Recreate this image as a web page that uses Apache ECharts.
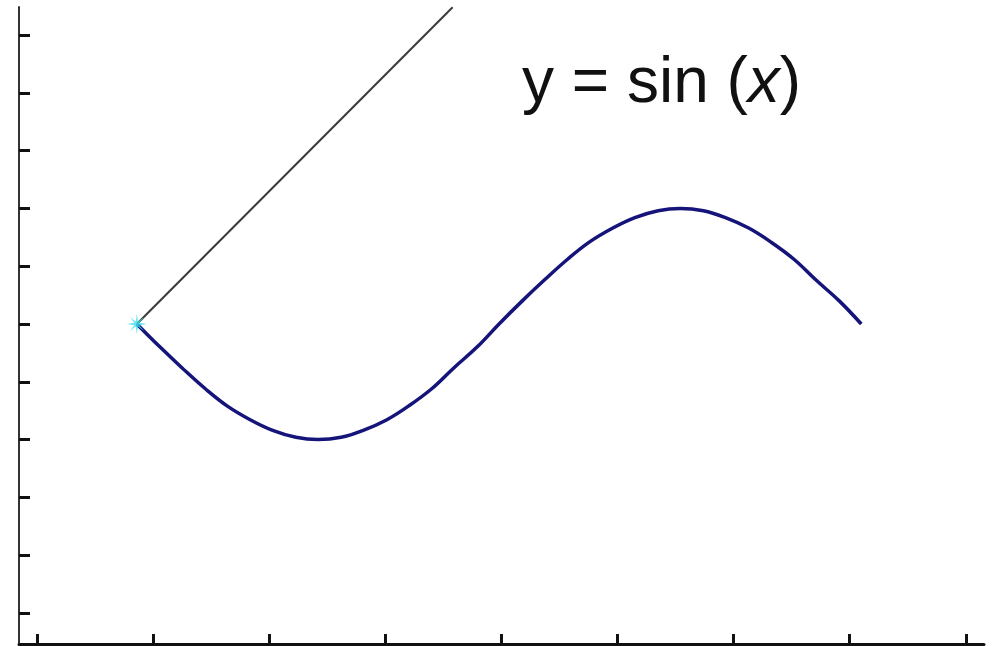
<!DOCTYPE html>
<html>
<head>
<meta charset="utf-8">
<script src="https://cdn.jsdelivr.net/npm/echarts@6/dist/echarts.min.js"></script>
<style>html,body{margin:0;padding:0;background:#fff}#c{width:997px;height:646px}</style>
</head>
<body>
<div id="c"></div>
<script>
// Values
var curveX = [0.86,1.06,1.25,1.45,1.64,1.84,2.03,2.23,2.42,2.62,2.81,3.01,3.20,3.40,3.59,3.79,3.98,4.18,4.37,4.57,4.76,4.96,5.15,5.35,5.54,5.74,5.93,6.13,6.32,6.52,6.71,6.91,7.10];
var curveY = [0,-0.20,-0.38,-0.56,-0.71,-0.83,-0.92,-0.98,-1,-0.98,-0.92,-0.83,-0.71,-0.56,-0.38,-0.20,0,0.20,0.38,0.56,0.71,0.83,0.92,0.98,1,0.98,0.92,0.83,0.71,0.56,0.38,0.20,0];
var lineX = [0.86, 3.58];
var lineY = [0, 2.74];
var markerX = [0.86];
var markerY = [0];
var xTicks = [0,1,2,3,4,5,6,7,8];
var yTicks = [-2.5,-2,-1.5,-1,-0.5,0,0.5,1,1.5,2,2.5];
var titleText = 'y = sin (';
var titleVar = 'x';
var titleEnd = ')';

function zip(a, b) { return a.map(function (v, i) { return [v, b[i]]; }); }

var chart = echarts.init(document.getElementById('c'));
var star = 'path://M0,-8L1,-1.2L8,0L1,1.2L0,8L-1,1.2L-8,0L-1,-1.2Z M5.6,-5.6L1.2,0L5.6,5.6L0,1.2L-5.6,5.6L-1.2,0L-5.6,-5.6L0,-1.2Z';
chart.setOption({
  backgroundColor: '#ffffff',
  animation: false,
  title: {
    text: '{a|' + titleText + '}{b|' + titleVar + '}{a|' + titleEnd + '}',
    left: 517, top: 47,
    textStyle: {
      fontWeight: 'normal',
      rich: {
        a: { fontFamily: 'Liberation Sans', fontSize: 64, fontWeight: 'normal', color: '#111' },
        b: { fontFamily: 'Liberation Sans', fontSize: 64, fontWeight: 'normal', fontStyle: 'italic', color: '#111' }
      }
    }
  },
  grid: { left: 19, right: 13, top: 7, bottom: 2 },
  xAxis: {
    type: 'value', min: -0.155, max: 8.157,
    axisLine: { show: true, onZero: false, lineStyle: { color: '#111', width: 3 } },
    axisTick: { show: true, inside: true, length: 10, customValues: xTicks, lineStyle: { color: '#111', width: 3 } },
    axisLabel: { show: false },
    splitLine: { show: false }
  },
  yAxis: {
    type: 'value', min: -2.768, max: 2.742,
    axisLine: { show: true, onZero: false, lineStyle: { color: '#333', width: 2 } },
    axisTick: { show: true, inside: true, length: 11, customValues: yTicks, lineStyle: { color: '#111', width: 3 } },
    axisLabel: { show: false },
    splitLine: { show: false }
  },
  series: [
    { type: 'line', data: zip(lineX, lineY), symbol: 'none', lineStyle: { color: '#3a3a3a', width: 2 }, z: 2 },
    { type: 'line', data: zip(curveX, curveY), symbol: 'none', smooth: 0.4, lineStyle: { color: '#14147a', width: 3.5 }, z: 3 },
    { type: 'scatter', data: zip(markerX, markerY), symbol: star, symbolSize: 20, itemStyle: { color: '#3fe0ef' }, z: 4 }
  ]
});
</script>
</body>
</html>
